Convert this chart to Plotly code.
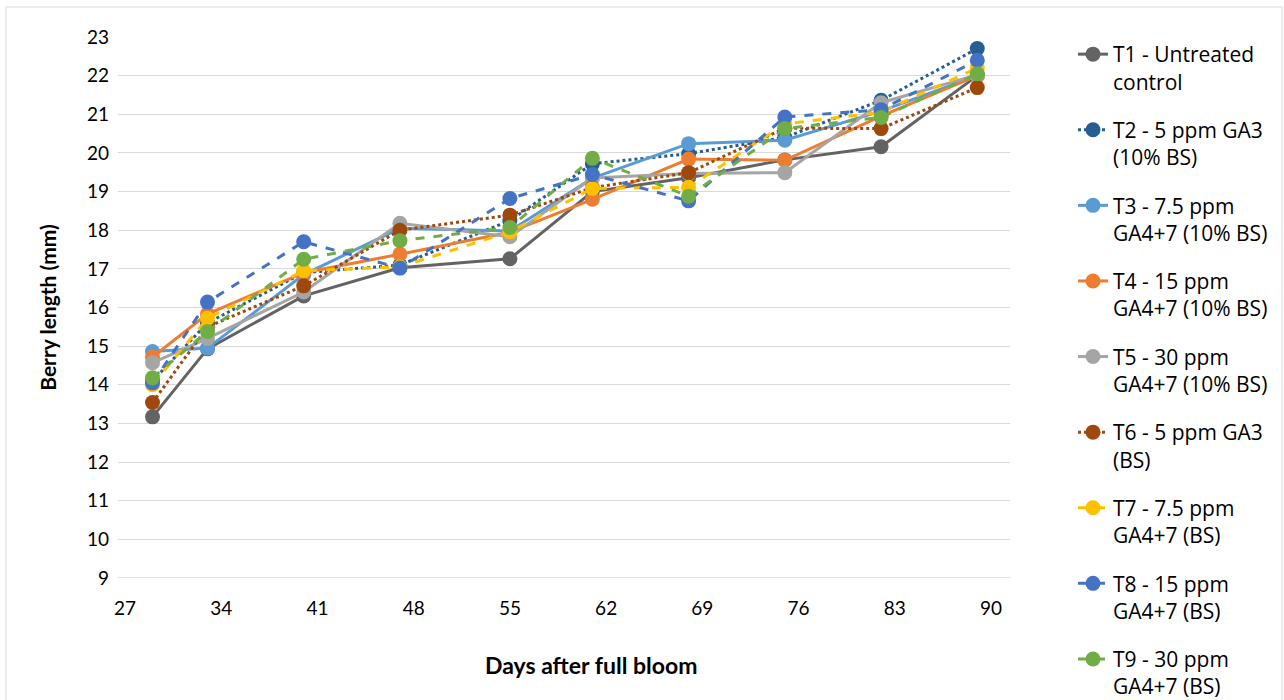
import plotly.graph_objects as go

days = [29, 33, 40, 47, 55, 61, 68, 75, 82, 89]

series_names = [
    "T1 - Untreated<br>control",
    "T2 - 5 ppm GA3<br>(10% BS)",
    "T3 - 7.5 ppm<br>GA4+7 (10% BS)",
    "T4 - 15 ppm<br>GA4+7 (10% BS)",
    "T5 - 30 ppm<br>GA4+7 (10% BS)",
    "T6 - 5 ppm GA3<br>(BS)",
    "T7 - 7.5 ppm<br>GA4+7 (BS)",
    "T8 - 15 ppm<br>GA4+7 (BS)",
    "T9 - 30 ppm<br>GA4+7 (BS)",
]

t1 = [13.17, 14.93, 16.30, 17.03, 17.26, 19.00, 19.36, 19.82, 20.16, 22.00]
t2 = [14.10, 15.60, 16.90, 17.10, 18.25, 19.72, 19.98, 20.40, 21.36, 22.70]
t3 = [14.86, 14.95, 16.85, 18.05, 17.98, 19.35, 20.24, 20.33, 21.08, 22.00]
t4 = [14.72, 15.83, 16.90, 17.38, 17.95, 18.80, 19.84, 19.81, 20.95, 22.00]
t5 = [14.57, 15.20, 16.40, 18.18, 17.83, 19.35, 19.47, 19.49, 21.30, 22.02]
t6 = [13.54, 15.50, 16.56, 18.00, 18.39, 19.10, 19.49, 20.64, 20.63, 21.69]
t7 = [14.00, 15.72, 16.95, 17.05, 17.96, 19.08, 19.11, 20.75, 21.05, 22.20]
t8 = [14.05, 16.14, 17.70, 17.02, 18.82, 19.44, 18.76, 20.93, 21.12, 22.40]
t9 = [14.18, 15.38, 17.25, 17.73, 18.07, 19.86, 18.88, 20.63, 20.92, 22.05]

values = [t1, t2, t3, t4, t5, t6, t7, t8, t9]
colors = ["#636363", "#255E91", "#5B9BD5", "#ED7D31", "#A5A5A5",
          "#9E480E", "#FFC000", "#4472C4", "#70AD47"]
dashes = ["solid", "dot", "solid", "solid", "solid", "dot", "dash", "dash", "dash"]

x_ticks = [27, 34, 41, 48, 55, 62, 69, 76, 83, 90]

W, H = 1284, 700
L, R, T, B = 118, 274, 37, 122
pw, ph = W - L - R, H - T - B


def px(xp):
    return (xp - L) / pw


def py(yp):
    return 1 - (yp - T) / ph


fig = go.Figure()
for i, (name, vals) in enumerate(zip(series_names, values)):
    fig.add_trace(go.Scatter(
        x=days, y=vals, name=name, mode="lines+markers",
        line=dict(color=colors[i], width=3, dash=dashes[i]),
        marker=dict(color=colors[i], size=15),
        legendgroup=f"g{i}",
    ))

fig.update_layout(
    width=W, height=H,
    margin=dict(l=L, r=R, t=T, b=B, autoexpand=False),
    paper_bgcolor="white", plot_bgcolor="white",
    font=dict(family="Lato", size=19, color="#000000"),
    showlegend=True,
    legend=dict(
        x=px(1073), y=1 - 34 / H, yref="container", xanchor="left", yanchor="top",
        font=dict(family="Open Sans", size=21, color="#000000"),
        valign="top", tracegroupgap=18, itemwidth=30, maxheight=690,
        bgcolor="rgba(0,0,0,0)",
    ),
    xaxis=dict(
        range=[26.49, 91.38], tickvals=x_ticks, showgrid=False,
        zeroline=False, showline=False, ticks="",
        tickfont=dict(family="Lato", size=19, color="#000000"),
        ticklabelstandoff=17,
    ),
    yaxis=dict(
        range=[9, 23], dtick=1, showgrid=True, gridcolor="#D9D9D9",
        gridwidth=1.3, zeroline=False, showline=False, ticks="",
        tickfont=dict(family="Lato", size=19, color="#000000"),
        ticklabelstandoff=8,
        title=dict(text="<b>Berry length (mm)</b>",
                   font=dict(family="Lato", size=21, color="#000000"),
                   standoff=24),
    ),
    annotations=[dict(
        text="<b>Days after full bloom</b>", x=px(591), y=py(665),
        xref="paper", yref="paper", showarrow=False,
        xanchor="center", yanchor="middle",
        font=dict(family="Lato", size=23, color="#000000"),
    )],
    shapes=[dict(
        type="rect", xref="paper", yref="paper",
        x0=px(6), x1=px(1282), y0=py(705), y1=py(7),
        line=dict(color="#D9D9D9", width=1), layer="below",
    ), dict(
        type="line", xref="paper", yref="y",
        x0=0, x1=1, y0=9, y1=9,
        line=dict(color="#D9D9D9", width=1.3), layer="below",
    )],
)

fig.write_html("out.html")
